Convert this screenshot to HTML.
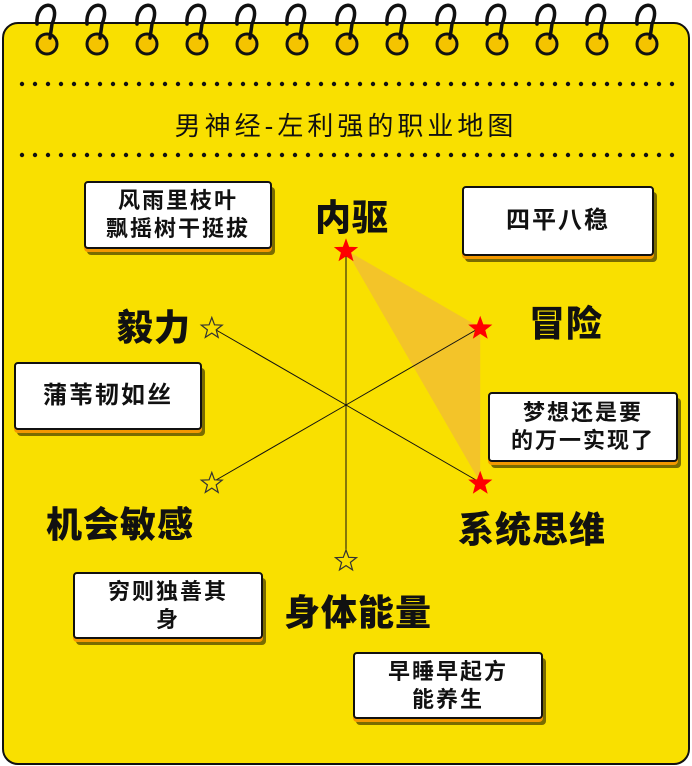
<!DOCTYPE html>
<html><head><meta charset="utf-8">
<style>
body{margin:0;width:692px;height:766px;background:#fff;overflow:hidden;position:relative;font-family:"Liberation Sans","Noto Sans CJK SC",sans-serif}
.pad{position:absolute;left:2px;top:22px;width:684px;height:739px;background:#F9E000;border:2px solid #111;border-radius:16px}
.card{position:absolute;background:#fff;border:2px solid #111;border-radius:4px;box-shadow:0 3px 0 #F39800,3px 6px 0 #7a6c00;display:flex;align-items:center;justify-content:center;text-align:center;font-weight:bold;font-size:22px;line-height:28px;letter-spacing:2px;color:#111;box-sizing:border-box}
.lab{position:absolute;font-weight:900;font-size:36px;color:#111;white-space:nowrap;transform:translate(-50%,-50%);letter-spacing:1px}
.title{position:absolute;left:0;width:692px;top:106px;text-align:center;font-size:26px;letter-spacing:4px;color:#111}
</style></head><body>
<div class="pad"></div>
<svg id="rings" width="692" height="766" style="position:absolute;left:0;top:0"></svg>
<div class="title">男神经-左利强的职业地图</div>
<svg id="chart" width="692" height="766" style="position:absolute;left:0;top:0"></svg>
<div class="card" style="left:84px;top:181px;width:188px;height:68px">风雨里枝叶<br>飘摇树干挺拔</div>
<div class="card" style="left:462px;top:186px;width:192px;height:70px;font-size:24px">四平八稳</div>
<div class="card" style="left:14px;top:362px;width:188px;height:68px;font-size:24px">蒲苇韧如丝</div>
<div class="card" style="left:488px;top:392px;width:190px;height:70px">梦想还是要<br>的万一实现了</div>
<div class="card" style="left:73px;top:572px;width:190px;height:67px">穷则独善其<br>身</div>
<div class="card" style="left:353px;top:652px;width:190px;height:67px">早睡早起方<br>能养生</div>
<div class="lab" style="left:352px;top:215px">内驱</div>
<div class="lab" style="left:566px;top:321px">冒险</div>
<div class="lab" style="left:532px;top:527px">系统思维</div>
<div class="lab" style="left:358px;top:610px">身体能量</div>
<div class="lab" style="left:120px;top:522px">机会敏感</div>
<div class="lab" style="left:154px;top:325px">毅力</div>
<script>
const NS="http://www.w3.org/2000/svg";
const categories=["内驱","冒险","系统思维","身体能量","机会敏感","毅力"];
const values=[1,1,1,0,0,0];
const cx=346,cy=405,R=155;
function mk(p,t,a){const e=document.createElementNS(NS,t);for(const k in a)e.setAttribute(k,a[k]);p.appendChild(e);return e;}
const rs=document.getElementById('rings');
const dots=[84,155];
for(let i=0;i<13;i++){const x=47+50*i;
 const c=mk(rs,'circle',{cx:x,cy:44,r:10,fill:'#F5C400',stroke:'#111','stroke-width':3});
 
 const p=mk(rs,'path',{d:`M${x-10} 24 C${x-12} 0 ${x+16} -2 ${x+5} 24 L${x+3} 38`,fill:'none',stroke:'#111','stroke-width':3.5,'stroke-linecap':'round'});
 }
dots.forEach(y=>{for(let x=22;x<=672;x+=13){const d=mk(rs,'circle',{cx:x,cy:y,r:2.2,fill:'#111'});
 }});
const ch=document.getElementById('chart');
const ang=i=>i*Math.PI*2/categories.length;
const pt=(i,v)=>[cx+R*v*Math.sin(ang(i)),cy-R*v*Math.cos(ang(i))];
const poly=values.map((v,i)=>[i,v]).filter(a=>a[1]>0).map(a=>pt(a[0],a[1]).join(',')).join(' ');
const pg=mk(ch,'polygon',{points:poly,fill:'#F2C12E',opacity:0.9});

categories.forEach((c,i)=>{const [x,y]=pt(i,1);
 const l=mk(ch,'line',{x1:cx,y1:cy,x2:x,y2:y,stroke:'#111','stroke-width':1});
 });
function star(x,y,r){let s=[];for(let k=0;k<10;k++){const rr=k%2?r*0.42:r;const a=k*Math.PI/5;s.push((x+rr*Math.sin(a)).toFixed(1)+','+(y-rr*Math.cos(a)).toFixed(1));}return s.join(' ');}
categories.forEach((c,i)=>{const [x,y]=pt(i,1);const f=values[i]>0;
 const s=mk(ch,'polygon',{points:star(x,y+1,11),fill:f?'#FF0000':'#F9E000',stroke:f?'#FF0000':'#333','stroke-width':1.2});
 });
</script>
</body></html>
